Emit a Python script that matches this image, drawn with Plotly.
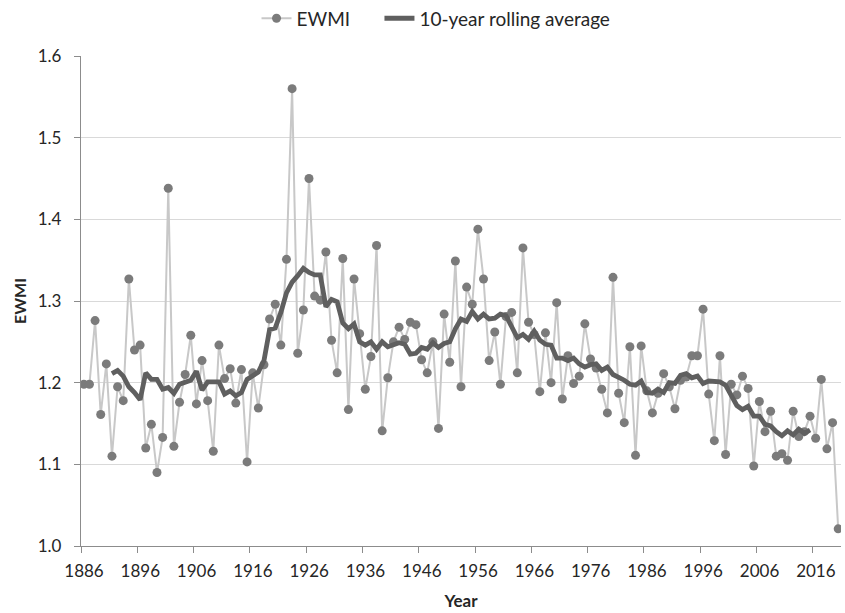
import plotly.graph_objects as go

years = list(range(1886, 2021))
ewmi = [
    1.198, 1.198, 1.276, 1.161, 1.223, 1.110, 1.195, 1.178, 1.327, 1.240,  # 1886-1895
    1.246, 1.120, 1.149, 1.090, 1.133, 1.438, 1.122, 1.176, 1.210, 1.258,  # 1896-1905
    1.174, 1.227, 1.178, 1.116, 1.246, 1.205, 1.217, 1.175, 1.216, 1.103,  # 1906-1915
    1.212, 1.169, 1.222, 1.278, 1.296, 1.246, 1.351, 1.560, 1.236, 1.289,  # 1916-1925
    1.450, 1.306, 1.301, 1.360, 1.252, 1.212, 1.352, 1.167, 1.327, 1.260,  # 1926-1935
    1.192, 1.232, 1.368, 1.141, 1.206, 1.250, 1.268, 1.253, 1.274, 1.271,  # 1936-1945
    1.228, 1.212, 1.250, 1.144, 1.284, 1.225, 1.349, 1.195, 1.317, 1.296,  # 1946-1955
    1.388, 1.327, 1.227, 1.262, 1.198, 1.281, 1.286, 1.212, 1.365, 1.274,  # 1956-1965
    1.259, 1.189, 1.261, 1.200, 1.298, 1.180, 1.233, 1.199, 1.208, 1.272,  # 1966-1975
    1.229, 1.218, 1.192, 1.163, 1.329, 1.187, 1.151, 1.244, 1.111, 1.245,  # 1976-1985
    1.190, 1.163, 1.187, 1.211, 1.195, 1.168, 1.203, 1.207, 1.233, 1.233,  # 1986-1995
    1.290, 1.186, 1.129, 1.233, 1.112, 1.198, 1.185, 1.208, 1.193, 1.098,  # 1996-2005
    1.177, 1.140, 1.165, 1.110, 1.113, 1.105, 1.165, 1.134, 1.140, 1.159,  # 2006-2015
    1.132, 1.204, 1.119, 1.151, 1.021,                                     # 2016-2020
]

roll_years = list(range(1891, 2016))
rolling = [
    1.211, 1.215, 1.208, 1.195, 1.188, 1.179, 1.212, 1.204, 1.204, 1.192,  # 1891-1900
    1.194, 1.187, 1.198, 1.201, 1.203, 1.214, 1.191, 1.201, 1.201, 1.201,  # 1901-1910
    1.186, 1.190, 1.184, 1.188, 1.204, 1.209, 1.213, 1.227, 1.265, 1.267,  # 1911-1920
    1.286, 1.310, 1.323, 1.331, 1.340, 1.335, 1.332, 1.332, 1.293, 1.302,  # 1921-1930
    1.299, 1.273, 1.266, 1.272, 1.250, 1.246, 1.250, 1.241, 1.250, 1.244,  # 1931-1940
    1.246, 1.249, 1.247, 1.235, 1.236, 1.243, 1.241, 1.249, 1.243, 1.248,  # 1941-1950
    1.250, 1.266, 1.278, 1.275, 1.287, 1.278, 1.284, 1.278, 1.279, 1.284,  # 1951-1960
    1.282, 1.269, 1.255, 1.259, 1.253, 1.263, 1.252, 1.247, 1.246, 1.230,  # 1961-1970
    1.230, 1.227, 1.230, 1.223, 1.219, 1.222, 1.223, 1.215, 1.219, 1.210,  # 1971-1980
    1.207, 1.203, 1.198, 1.197, 1.202, 1.188, 1.187, 1.192, 1.188, 1.200,  # 1981-1990
    1.199, 1.209, 1.211, 1.206, 1.208, 1.199, 1.202, 1.201, 1.201, 1.197,  # 1991-2000
    1.183, 1.172, 1.167, 1.171, 1.159, 1.159, 1.149, 1.147, 1.140, 1.135,  # 2001-2010
    1.141, 1.136, 1.143, 1.138, 1.142,                                     # 2011-2015
]

x_tick_labels = [str(y) for y in range(1886, 2021, 10)]
y_ticks = [1.0, 1.1, 1.2, 1.3, 1.4, 1.5, 1.6]

FONT = "Lato, 'Open Sans', sans-serif"
TXT = "#262626"
AXIS = "#8c8c8c"
GRID = "#d9d9d9"

fig = go.Figure()
fig.add_trace(go.Scatter(
    x=years, y=ewmi, name="EWMI" + "\u00a0" * 5, mode="lines+markers",
    line=dict(color="#c8c8c8", width=2),
    marker=dict(color="#7b7b7b", size=9, line=dict(width=0)),
))
fig.add_trace(go.Scatter(
    x=roll_years, y=rolling, name="10-year rolling average", mode="lines",
    line=dict(color="#5f5f5f", width=4.8),
))

fig.update_layout(
    width=845, height=613,
    margin=dict(l=81, r=4, t=56, b=67),
    paper_bgcolor="white", plot_bgcolor="white",
    font=dict(family=FONT, size=17, color=TXT),
    showlegend=True,
    legend=dict(
        orientation="h", xref="container", yref="container",
        x=0.516, xanchor="center", y=0.97, yanchor="middle",
        font=dict(size=19, color=TXT), itemwidth=30,
        bgcolor="rgba(0,0,0,0)", tracegroupgap=0,
    ),
)

fig.update_xaxes(
    range=[1885.5, 2020.5],
    tickmode="array",
    tickvals=[y - 0.5 for y in range(1886, 2021, 10)],
    ticktext=x_tick_labels,
    ticklabelshift=3,
    ticklabelstandoff=3,
    ticks="outside", ticklen=6, tickcolor=AXIS, tickwidth=1,
    showline=True, linecolor=AXIS, linewidth=1.3,
    showgrid=False, zeroline=False,
    tickfont=dict(size=17, color=TXT),
    title=dict(text="<b>Year</b>", font=dict(size=17, color=TXT), standoff=15),
)
fig.update_yaxes(
    range=[1.0, 1.6],
    tickmode="array", tickvals=y_ticks,
    tickformat=".1f",
    ticklabelstandoff=9,
    ticks="outside", ticklen=6, tickcolor=AXIS, tickwidth=1,
    showline=True, linecolor=AXIS, linewidth=1.3,
    showgrid=True, gridcolor=GRID, gridwidth=1.3,
    zeroline=False,
    tickfont=dict(size=17, color=TXT),
    title=dict(text="<b>EWMI</b>", font=dict(size=16, color=TXT), standoff=7),
)

fig.write_html("out.html")
